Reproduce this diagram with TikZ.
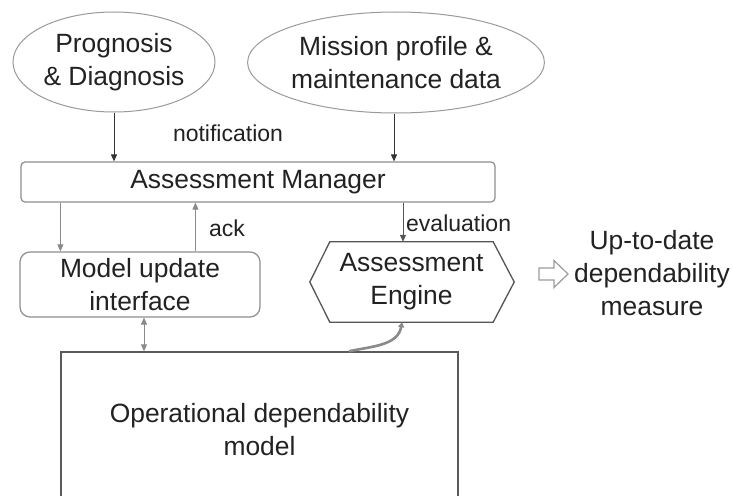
\documentclass[tikz,border=0pt]{standalone}
\usepackage{fontspec}
\setmainfont{Liberation Sans}
\usetikzlibrary{shapes.geometric,arrows.meta}
\definecolor{txt}{HTML}{222222}
\definecolor{ellgray}{HTML}{9A9A9A}
\definecolor{boxgray}{HTML}{8E8E8E}
\definecolor{darkline}{HTML}{333333}
\definecolor{midgray}{HTML}{8A8A8A}
\definecolor{hexgray}{HTML}{555555}
\definecolor{modelgray}{HTML}{5A5A5A}
\definecolor{arrgray}{HTML}{9C9C9C}
\tikzset{
  base/.style={font=\fontsize{26.4pt}{33pt}\selectfont, text=txt, align=center, inner sep=0pt},
  lbl/.style={font=\fontsize{23pt}{28pt}\selectfont, text=txt, inner sep=0pt},
  source/.style={base, ellipse, draw=ellgray, line width=1pt},
  rbox/.style={base, rectangle, rounded corners=#1, draw=boxgray, line width=1.2pt},
  darrow/.style={draw=darkline, line width=1pt, -{Triangle[length=7pt,width=6pt]}},
  garrow/.style={draw=midgray, line width=1pt, -{Triangle[length=7pt,width=6pt]}},
  biarrow/.style={draw=midgray, line width=1pt, {Triangle[length=7pt,width=6pt]}-{Triangle[length=7pt,width=6pt]}},
  evalarrow/.style={draw=hexgray, line width=1pt, -{Triangle[length=7pt,width=6pt]}},
  hollow/.style={draw=arrgray, fill=white, line width=1.2pt, line join=miter},
}
\begin{document}
\begin{tikzpicture}[x=1pt,y=-1pt]
\clip (0,0) rectangle (733,495);
\fill[white] (0,0) rectangle (733,495);

% input sources
\node[source, minimum width=202pt, minimum height=100pt] (pd) at (114,62) {Prognosis\\\& Diagnosis};
\node[source, minimum width=268pt, minimum height=101pt] (mp) at (396,62.5) {Mission profile \&\\maintenance data};

% manager and interface
\node[rbox=4pt, minimum width=474pt, minimum height=40pt] (am) at (258,182) {Assessment Manager};
\node[rbox=10pt, minimum width=240pt, minimum height=65pt] (mui) at (140,284.5) {Model update\\interface};

% assessment engine (hexagon drawn around its node)
\node[base, minimum width=163pt, minimum height=80pt] (ae) at (411.5,282) {Assessment\\Engine};
\draw[hexgray, line width=1.3pt, line join=miter]
  (ae.north west) -- (ae.north east) -- ([xshift=21pt]ae.east) -- (ae.south east)
  -- (ae.south west) -- ([xshift=-20pt]ae.west) -- cycle;

% operational model
\node[base, draw=modelgray, line width=1.5pt, minimum width=397pt, minimum height=156pt] (odm) at (259.5,430) {Operational dependability\\model};

% output: hollow block arrow and result text
\coordinate (out) at (539,274);
\draw[hollow] (out) ++(0,-6) -- ++(15,0) -- ++(0,-7.5) -- ++(14,13.5)
  -- ++(-14,13.5) -- ++(0,-7.5) -- ++(-15,0) -- cycle;
\node[base] (udm) at (652,273) {Up-to-date\\dependability\\measure};

% connectors
\draw[darrow] (pd.south) -- (pd.south |- am.north);
\draw[darrow] ([xshift=-2pt]mp.south) -- ([xshift=-2pt]mp.south |- am.north);
\node[lbl] (notif) at (228,133) {notification};

\draw[garrow] ([xshift=40pt]am.south west) -- ([xshift=40pt]am.south west |- mui.north);
\draw[garrow] ([xshift=176pt]mui.north west) -- ([xshift=176pt]mui.north west |- am.south);
\node[lbl, anchor=west] (ack) at (209,228) {ack};

\draw[evalarrow] ([xshift=-8.5pt]ae.north |- am.south) -- ([xshift=-8.5pt]ae.north);
\node[lbl, anchor=west] (evl) at (406,223) {evaluation};

\draw[biarrow] ([xshift=4pt]mui.south) -- ([xshift=4pt]mui.south |- odm.north);
\draw[midgray, line width=2.6pt, -{Triangle[length=5pt,width=6pt]}]
  ([xshift=89.5pt]odm.north) to[out=12,in=-100] ([xshift=-9.5pt]ae.south);
\end{tikzpicture}
\end{document}
